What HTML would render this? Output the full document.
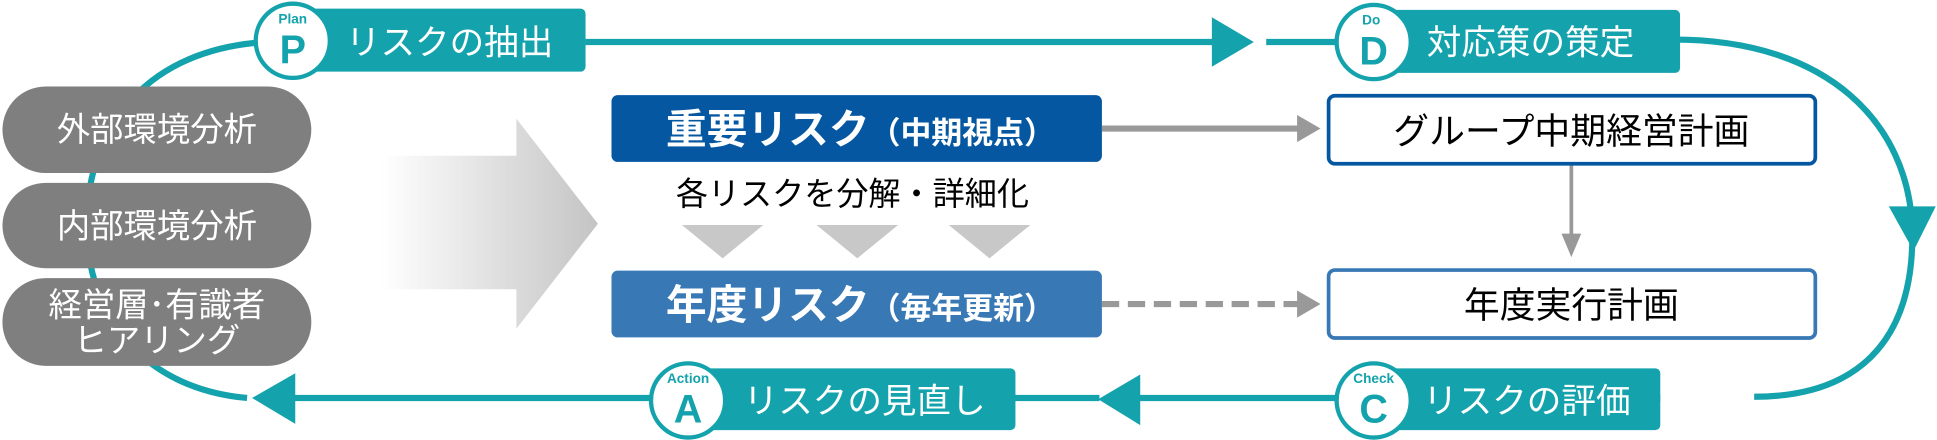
<!DOCTYPE html>
<html><head><meta charset="utf-8"><style>
html,body{margin:0;padding:0;background:#fff;}
svg{display:block;}
text{font-family:"Liberation Sans","Noto Sans CJK JP",sans-serif;}
</style></head><body>
<svg width="1937" height="440" viewBox="0 0 1568 356" preserveAspectRatio="none" xmlns="http://www.w3.org/2000/svg">
<defs>
<linearGradient id="g" x1="0" x2="1" y1="0" y2="0">
<stop offset="0.1" stop-color="#fff"/><stop offset="1" stop-color="#c4c4c4"/>
</linearGradient>
</defs>
<!-- loop -->
<g fill="none" stroke="#14a3ad" stroke-width="5">
<path d="M215 34 C120 40 72 100 70 180 C70 260 120 315 200 322"/>
<path d="M474 34 L985 34"/>
<path d="M1025 34 L1090 34"/>
<path d="M1355 32 C1480 32 1545 100 1548 185 C1550 280 1500 321 1420 321"/>
<path d="M1344 322 L920 322"/>
<path d="M890 322 L235 322"/>
</g>
<g fill="#14a3ad">
<polygon points="981,14 1015,34 981,54"/>
<polygon points="1529,167 1567,167 1549,203"/>
<polygon points="923,303 923,344 889,323"/>
<polygon points="239,302 239,343 204,322"/>
</g>
<!-- badges -->
<rect x="237" y="7" width="237" height="51" rx="4" fill="#14a3ad"/>
<circle cx="237" cy="33" r="30" fill="#fff" stroke="#14a3ad" stroke-width="3.5"/>
<text x="237" y="19" font-size="11" fill="#14a3ad" text-anchor="middle" font-weight="bold">Plan</text>
<text x="237" y="51" font-size="32" fill="#14a3ad" text-anchor="middle" font-weight="bold">P</text>
<text x="280" y="44" font-size="28" fill="#fff">リスクの抽出</text>

<rect x="1112" y="8" width="248" height="51" rx="4" fill="#14a3ad"/>
<circle cx="1112" cy="34" r="30" fill="#fff" stroke="#14a3ad" stroke-width="3.5"/>
<text x="1110" y="20" font-size="11" fill="#14a3ad" text-anchor="middle" font-weight="bold">Do</text>
<text x="1112" y="52" font-size="32" fill="#14a3ad" text-anchor="middle" font-weight="bold">D</text>
<text x="1155" y="44" font-size="28" fill="#fff">対応策の策定</text>

<rect x="1112" y="298" width="232" height="50" rx="4" fill="#14a3ad"/>
<circle cx="1112" cy="324" r="30" fill="#fff" stroke="#14a3ad" stroke-width="3.5"/>
<text x="1112" y="310" font-size="11" fill="#14a3ad" text-anchor="middle" font-weight="bold">Check</text>
<text x="1112" y="342" font-size="32" fill="#14a3ad" text-anchor="middle" font-weight="bold">C</text>
<text x="1152" y="334" font-size="28" fill="#fff">リスクの評価</text>

<rect x="557" y="298" width="265" height="50" rx="4" fill="#14a3ad"/>
<circle cx="557" cy="324" r="30" fill="#fff" stroke="#14a3ad" stroke-width="3.5"/>
<text x="557" y="310" font-size="11" fill="#14a3ad" text-anchor="middle" font-weight="bold">Action</text>
<text x="557" y="342" font-size="32" fill="#14a3ad" text-anchor="middle" font-weight="bold">A</text>
<text x="602" y="334" font-size="28" fill="#fff">リスクの見直し</text>

<!-- pills -->
<rect x="2" y="70" width="250" height="70" rx="35" fill="#7f7f7f"/>
<rect x="2" y="148" width="250" height="69" rx="35" fill="#7f7f7f"/>
<rect x="2" y="225" width="250" height="71" rx="35" fill="#7f7f7f"/>
<text x="127" y="114" font-size="27" fill="#fff" text-anchor="middle">外部環境分析</text>
<text x="127" y="192" font-size="27" fill="#fff" text-anchor="middle">内部環境分析</text>
<text x="127" y="256" font-size="27" fill="#fff" text-anchor="middle">経営層･有識者</text>
<text x="127" y="285" font-size="27" fill="#fff" text-anchor="middle">ヒアリング</text>

<!-- big arrow -->
<polygon points="289,126 418,126 418,96 484,181 418,266 418,234 289,234" fill="url(#g)"/>

<!-- blue boxes -->
<rect x="495" y="77" width="397" height="54" rx="5" fill="#0557a2"/>
<text x="539" y="116" font-size="33" fill="#fff" font-weight="bold">重要リスク<tspan font-size="25">（中期視点）</tspan></text>
<text x="690" y="166" font-size="26" fill="#000" text-anchor="middle">各リスクを分解・詳細化</text>
<g fill="#c8c8c8">
<polygon points="552,182 618,182 585,209"/>
<polygon points="661,182 727,182 694,209"/>
<polygon points="768,182 834,182 801,209"/>
</g>
<rect x="495" y="219" width="397" height="54" rx="5" fill="#3778b5"/>
<text x="539" y="258" font-size="33" fill="#fff" font-weight="bold">年度リスク<tspan font-size="25">（毎年更新）</tspan></text>

<!-- gray connectors -->
<line x1="892" y1="104" x2="1052" y2="104" stroke="#999" stroke-width="5"/>
<polygon points="1050,93 1069,104 1050,115" fill="#999"/>
<line x1="892" y1="246" x2="1052" y2="246" stroke="#999" stroke-width="5" stroke-dasharray="14,7"/>
<polygon points="1050,235 1069,246 1050,257" fill="#999"/>
<line x1="1272" y1="133" x2="1272" y2="192" stroke="#999" stroke-width="3"/>
<polygon points="1264,189 1280,189 1272,208" fill="#999"/>

<!-- white boxes -->
<rect x="1075.5" y="77.5" width="394" height="55" rx="5" fill="#fff" stroke="#0557a2" stroke-width="3"/>
<text x="1272" y="116" font-size="29" fill="#000" text-anchor="middle">グループ中期経営計画</text>
<rect x="1075.5" y="218.5" width="394" height="55" rx="5" fill="#fff" stroke="#3778b5" stroke-width="3"/>
<text x="1272" y="257" font-size="29" fill="#000" text-anchor="middle">年度実行計画</text>
</svg>
</body></html>
